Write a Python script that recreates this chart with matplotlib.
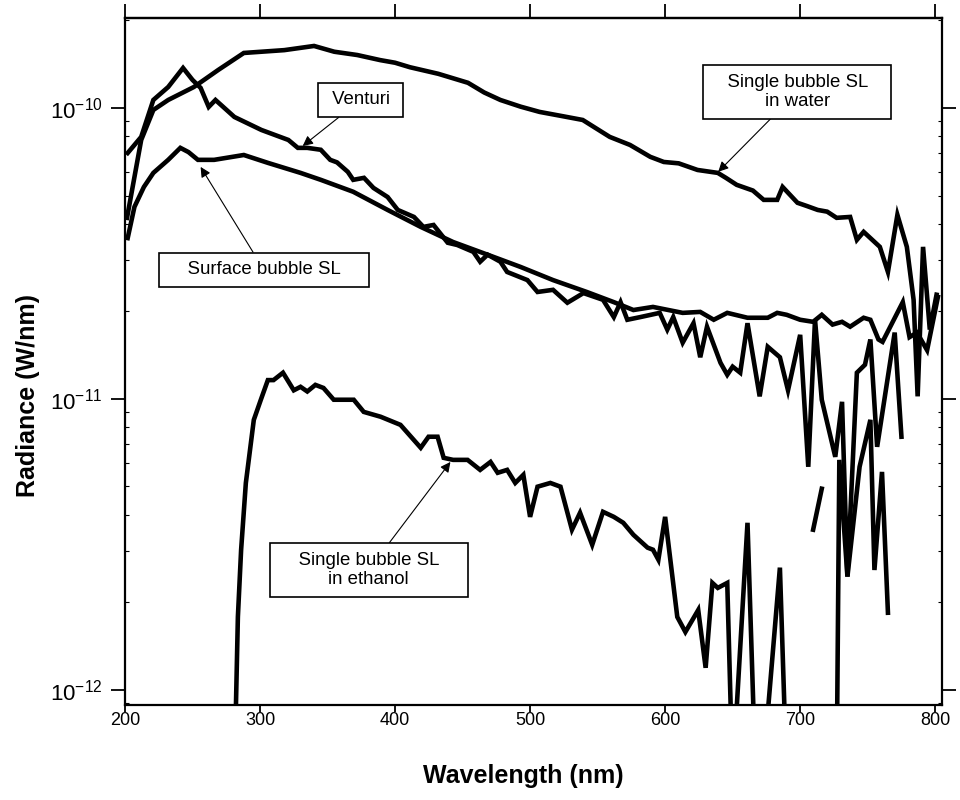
import numpy as np
import matplotlib
matplotlib.use("Agg")
import matplotlib.pyplot as plt

plt.rcParams['font.family'] = ['Liberation Sans', 'DejaVu Sans']
plt.rcParams['mathtext.default'] = 'regular'

BELOW = 5e-13  # values under the axis floor (curve drops off the plot)
nan = np.nan

# Single bubble SL in water
water_wl = [201.5, 212, 221, 232, 251, 269, 288, 318, 340, 355, 372, 389, 400,
            411, 432, 454, 466, 478, 493, 507, 525, 539, 549, 559, 574, 589,
            599, 610, 624, 639, 645, 653, 665, 673, 683, 687, 698, 705, 713,
            720, 727, 737, 742, 747, 759, 765, 772, 779, 784, 787, 791, 796,
            801]
water_rad = [4.19e-11, 7.76e-11, 9.84e-11, 1.065e-10, 1.18e-10, 1.35e-10,
             1.545e-10, 1.58e-10, 1.633e-10, 1.56e-10, 1.52e-10, 1.46e-10,
             1.43e-10, 1.38e-10, 1.31e-10, 1.22e-10, 1.13e-10, 1.065e-10,
             1.01e-10, 9.69e-11, 9.35e-11, 9.09e-11, 8.5e-11, 7.95e-11,
             7.46e-11, 6.79e-11, 6.52e-11, 6.45e-11, 6.12e-11, 5.98e-11,
             5.75e-11, 5.44e-11, 5.2e-11, 4.83e-11, 4.83e-11, 5.35e-11,
             4.72e-11, 4.6e-11, 4.46e-11, 4.4e-11, 4.19e-11, 4.22e-11,
             3.52e-11, 3.75e-11, 3.33e-11, 2.73e-11, 4.29e-11, 3.33e-11,
             2.19e-11, 1.02e-11, 3.33e-11, 1.73e-11, 2.28e-11]

# Venturi
venturi_wl = [202, 212, 221, 232, 243, 250, 256, 262, 267, 281, 301, 321, 328,
              335, 345, 352, 357, 365, 369, 377, 384, 394.5, 402, 414, 421,
              428.5, 439, 446, 458, 463, 468.5, 478, 483, 498, 505.5, 517,
              527.6, 539.5, 554, 562, 567, 572, 581.6, 596, 601.6, 606, 613,
              621, 626, 631, 641, 646, 650, 655.6, 661, 670, 676, 685, 691,
              700, 706, 711, 716, 726, 731, 735, 742, 748, 752, 757, 770, 775]
venturi_rad = [7.0e-11, 7.95e-11, 1.065e-10, 1.18e-10, 1.372e-10, 1.248e-10,
               1.172e-10, 1.008e-10, 1.065e-10, 9.31e-11, 8.4e-11, 7.76e-11,
               7.29e-11, 7.29e-11, 7.18e-11, 6.63e-11, 6.5e-11, 6.03e-11,
               5.66e-11, 5.75e-11, 5.31e-11, 4.94e-11, 4.46e-11, 4.22e-11,
               3.9e-11, 3.96e-11, 3.44e-11, 3.38e-11, 3.2e-11, 2.96e-11,
               3.13e-11, 2.96e-11, 2.73e-11, 2.56e-11, 2.33e-11, 2.37e-11,
               2.14e-11, 2.31e-11, 2.19e-11, 1.91e-11, 2.15e-11, 1.87e-11,
               1.91e-11, 1.975e-11, 1.73e-11, 1.91e-11, 1.56e-11, 1.82e-11,
               1.39e-11, 1.77e-11, 1.33e-11, 1.21e-11, 1.29e-11, 1.23e-11,
               1.82e-11, 1.02e-11, 1.51e-11, 1.39e-11, 1.07e-11, 1.66e-11,
               5.84e-12, 1.87e-11, 9.93e-12, 6.32e-12, 9.77e-12, 2.45e-12,
               1.23e-11, 1.31e-11, 1.6e-11, 6.84e-12, 1.69e-11, 7.41e-12]

# Surface bubble SL
surface_wl = [202, 207, 214, 221, 232, 241, 247, 254, 266, 288, 306, 330, 345,
              369, 394.5, 419, 443, 468.5, 493, 517, 542, 562, 576.5, 591, 613,
              626, 636, 646, 661, 676, 683, 690, 700, 709.6, 716, 724, 731,
              737, 747, 752, 758, 761, 776, 781, 786.5, 794, 802]
surface_rad = [3.57e-11, 4.57e-11, 5.35e-11, 5.98e-11, 6.63e-11, 7.29e-11,
               7.05e-11, 6.63e-11, 6.63e-11, 6.89e-11, 6.47e-11, 5.98e-11,
               5.66e-11, 5.15e-11, 4.46e-11, 3.9e-11, 3.46e-11, 3.13e-11,
               2.84e-11, 2.56e-11, 2.33e-11, 2.15e-11, 2.02e-11, 2.07e-11,
               1.975e-11, 1.99e-11, 1.87e-11, 1.975e-11, 1.9e-11, 1.9e-11,
               1.975e-11, 1.945e-11, 1.87e-11, 1.84e-11, 1.945e-11, 1.8e-11,
               1.84e-11, 1.77e-11, 1.9e-11, 1.87e-11, 1.6e-11, 1.57e-11,
               2.15e-11, 1.63e-11, 1.69e-11, 1.47e-11, 2.24e-11]

# Single bubble SL in ethanol (nan = gap in the trace)
ethanol_wl = [281, 283.6, 286, 289.5, 295.4, 300.6, 305.8, 310, 317, 325, 330,
              335, 341, 347, 354.6, 369.4, 376.8, 389.3, 404, 419, 424.8,
              431.5, 436, 443, 453.7, 463, 470.7, 476, 483, 489, 495, 500,
              505.5, 515, 522.5, 531, 537, 546, 554, 562, 569, 576.5, 587,
              591, 595, 600, 609, 615, 624.5, 630, 635, 639, 646, 650, 661,
              667, 672, 685, 690, 700, 709.6, 716, 720, 727, 729, 735, 744,
              752, 755, 760.6, 765]
ethanol_rad = [BELOW, 1.78e-12, 3.03e-12, 5.14e-12, 8.47e-12, 9.93e-12,
               1.16e-11, 1.16e-11, 1.23e-11, 1.07e-11, 1.1e-11, 1.06e-11,
               1.117e-11, 1.09e-11, 9.93e-12, 9.93e-12, 9.02e-12, 8.68e-12,
               8.14e-12, 6.79e-12, 7.41e-12, 7.41e-12, 6.27e-12, 6.17e-12,
               6.17e-12, 5.7e-12, 6.07e-12, 5.57e-12, 5.7e-12, 5.14e-12,
               5.48e-12, 3.93e-12, 4.99e-12, 5.14e-12, 4.99e-12, 3.55e-12,
               4.06e-12, 3.15e-12, 4.09e-12, 3.93e-12, 3.75e-12, 3.41e-12,
               3.08e-12, 3.03e-12, 2.8e-12, 3.93e-12, 1.78e-12, 1.58e-12,
               1.88e-12, 1.19e-12, 2.33e-12, 2.24e-12, 2.33e-12, BELOW,
               3.75e-12, BELOW, BELOW, 2.63e-12, BELOW, nan, 3.55e-12,
               4.91e-12, nan, BELOW, 6.17e-12, 2.45e-12, 5.84e-12, 8.47e-12,
               2.58e-12, 5.61e-12, 1.84e-12]

x_ticks = [200, 300, 400, 500, 600, 700, 800]


fig = plt.figure(figsize=(9.6, 8), dpi=100)
ax = fig.add_axes([0.1302, 0.119, 0.851, 0.8587])

for wl, rad in [(water_wl, water_rad), (venturi_wl, venturi_rad),
                (surface_wl, surface_rad), (ethanol_wl, ethanol_rad)]:
    ax.plot(wl, rad, color='black', lw=3.3, solid_joinstyle='miter')

ax.set_yscale('log')
ax.set_xlim(200, 805)
ax.set_ylim(8.88e-13, 2.04e-10)
ax.set_xticks(x_ticks)
ax.set_yticks([1e-12, 1e-11, 1e-10])
ax.set_yticklabels([r'$10^{-12}$', r'$10^{-11}$', r'$10^{-10}$'])

for s in ax.spines.values():
    s.set_linewidth(1.6)
# bottom ticks short with labels close, longer ticks on top
ax.tick_params(axis='x', which='major', direction='out', length=5, width=1.3,
               labelsize=13, pad=0.5)
top = ax.secondary_xaxis('top')
top.set_xticks(x_ticks)
top.tick_params(direction='out', length=10, width=1.3, labeltop=False)
top.spines['top'].set_linewidth(1.6)

ax.tick_params(axis='y', which='major', direction='out', length=10, width=1.3,
               labelsize=16, pad=6, right=True)
ax.tick_params(axis='y', which='minor', direction='in', length=3, width=0.8,
               left=True, right=True)

ax.set_xlabel('Wavelength (nm)', fontsize=18, fontweight='bold')
ax.xaxis.set_label_coords(0.487, -0.086)
ax.set_ylabel('Radiance (W/nm)', fontsize=18, fontweight='bold')
ax.yaxis.set_label_coords(-0.104, 0.45)

box = dict(boxstyle='square,pad=0.45', fc='white', ec='black', lw=1.2)
arrow = dict(arrowstyle='-|>', color='black', lw=0.8, mutation_scale=15,
             shrinkA=0, shrinkB=0)

ax.annotate(' Venturi ', xy=(331.6, 7.4e-11), xytext=(374.5, 1.065e-10),
            ha='center', va='center', fontsize=13.4, bbox=box,
            arrowprops=arrow)
ax.annotate('   Single bubble SL   \nin water', xy=(639.3, 6.03e-11),
            xytext=(697.8, 1.135e-10), ha='center', va='center',
            multialignment='center', fontsize=13.4, linespacing=1.2,
            bbox=box, arrowprops=arrow)
ax.annotate('    Surface bubble SL    ', xy=(256, 6.27e-11),
            xytext=(302.8, 2.78e-11), ha='center', va='center',
            fontsize=13.4, bbox=box, arrowprops=arrow)
ax.annotate('    Single bubble SL    \nin ethanol', xy=(441, 6.07e-12),
            xytext=(380.5, 2.58e-12), ha='center', va='center',
            multialignment='center', fontsize=13.4, linespacing=1.2,
            bbox=box, arrowprops=arrow)

fig.savefig('out.png', dpi=100)
